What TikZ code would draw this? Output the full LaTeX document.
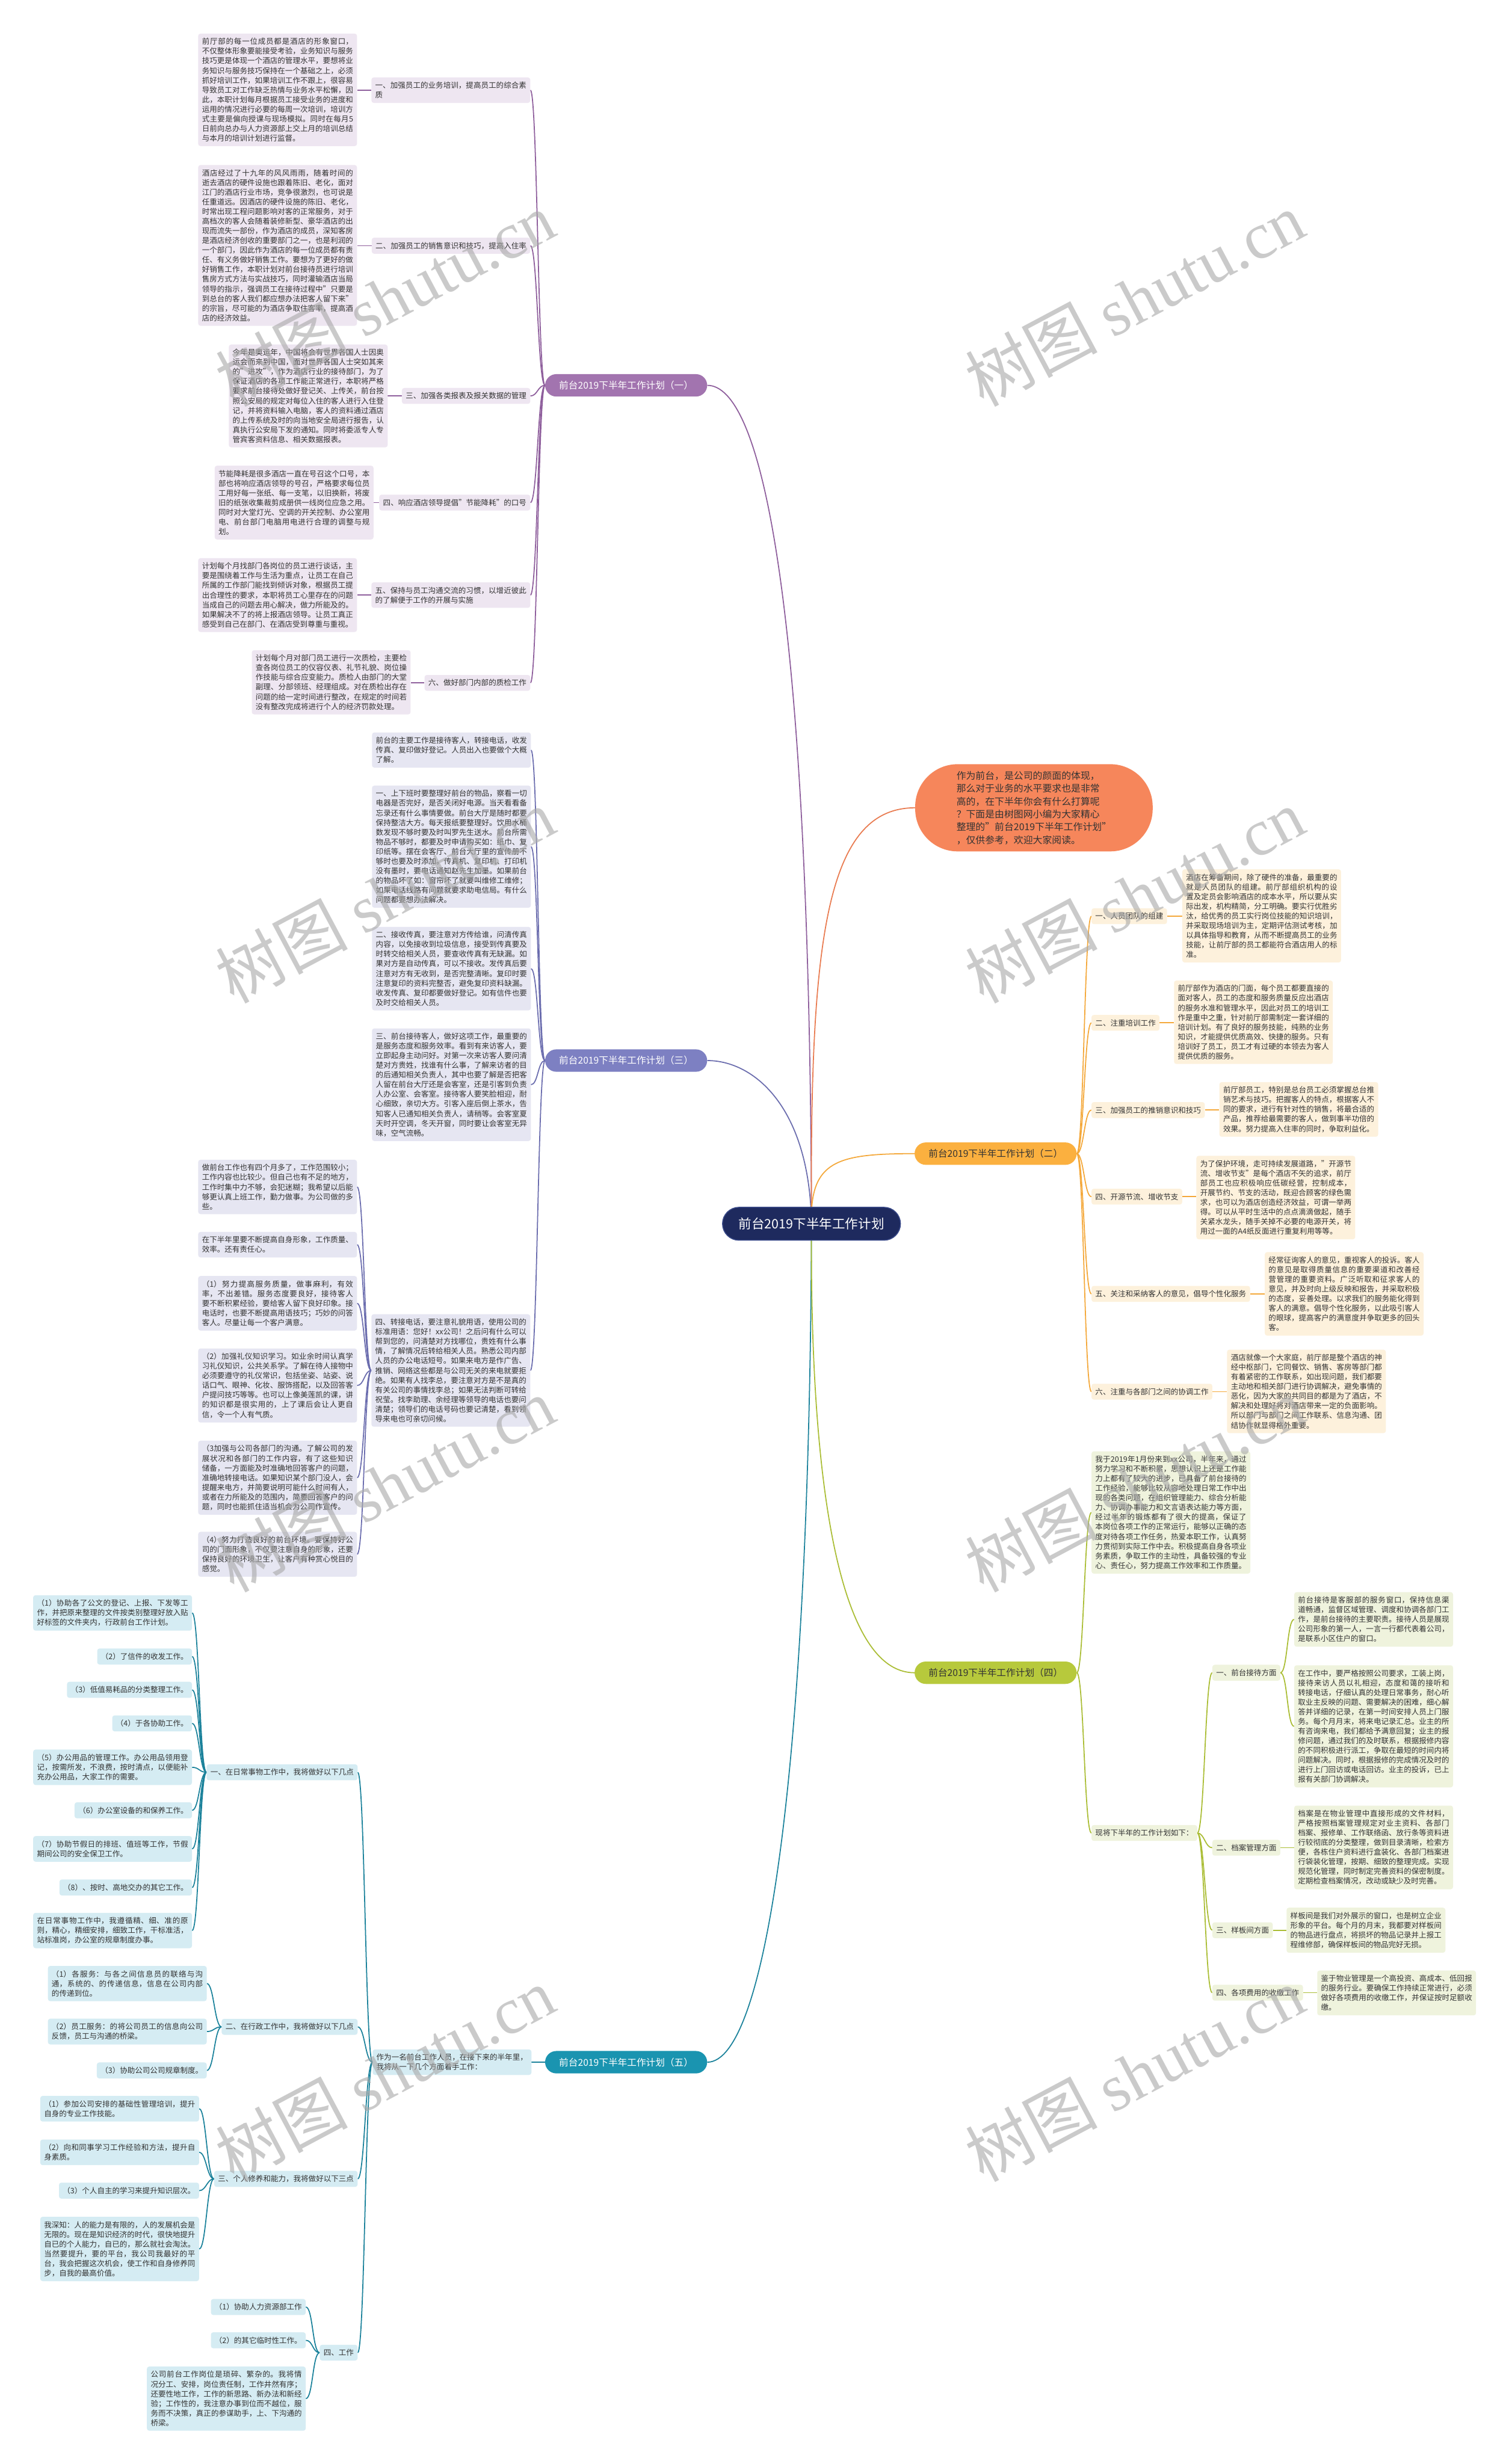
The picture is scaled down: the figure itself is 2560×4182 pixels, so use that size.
\documentclass[tikz,border=0pt]{standalone}
\usepackage{fontspec}
\setmainfont{Noto Sans CJK SC}
\newfontfamily\wmlatin{Liberation Serif}
\XeTeXlinebreaklocale "zh"
\XeTeXlinebreakskip=0pt plus 1pt
\XeTeXlinebreakpenalty=0
\tolerance=9999
\emergencystretch=8pt
\definecolor{txt}{HTML}{333333}
\definecolor{puL}{HTML}{8E5E9C}
\definecolor{puM}{HTML}{A274AF}
\definecolor{puF}{HTML}{EEE6F1}
\definecolor{slL}{HTML}{6B6DAE}
\definecolor{slM}{HTML}{7D80C2}
\definecolor{slF}{HTML}{E6E6F2}
\definecolor{teL}{HTML}{1B829B}
\definecolor{teM}{HTML}{1A94B0}
\definecolor{teF}{HTML}{D5ECF3}
\definecolor{orL}{HTML}{F4A83A}
\definecolor{orM}{HTML}{FBB03F}
\definecolor{orF}{HTML}{FDF1DC}
\definecolor{grL}{HTML}{AABD34}
\definecolor{grM}{HTML}{B7C93C}
\definecolor{grF}{HTML}{EFF3DD}
\definecolor{introF}{HTML}{F6865B}
\definecolor{introL}{HTML}{E97B50}
\definecolor{rootF}{HTML}{1E2A5E}
\definecolor{rootD}{HTML}{3A4A8A}
\definecolor{wmC}{HTML}{A8A8A8}
\pgfdeclarelayer{bg}
\pgfsetlayers{bg,main}
\newcommand\lcon[3]{\draw[lnk,#1] (#2.west) .. controls ([xshift=-12pt]#2.west) and ([xshift=12pt]#3.east) .. (#3.east);}
\newcommand\rcon[3]{\draw[lnk,#1] (#2.east) .. controls ([xshift=12pt]#2.east) and ([xshift=-12pt]#3.west) .. (#3.west);}
\newcommand\hl[3]{\draw[lnk,#1] (#2.west) -- (#2.west -| #3.east);}
\newcommand\hr[3]{\draw[lnk,#1] (#2.east) -- (#2.east -| #3.west);}
\begin{document}
\begin{tikzpicture}[x=1pt,y=-1pt,
  tbox/.style={rectangle,rounded corners=4pt,inner xsep=6.5pt,inner ysep=7.5pt,text=txt,font=\fontsize{12.8}{16.4}\selectfont,align=left},
  tw/.style={text width=256.5pt,align=justify},
  pub/.style={tbox,fill=puF}, slb/.style={tbox,fill=slF}, teb/.style={tbox,fill=teF},
  orb/.style={tbox,fill=orF}, grb/.style={tbox,fill=grF},
  mainb/.style={rectangle,rounded corners=19pt,minimum width=275pt,minimum height=38pt,inner sep=0pt,font=\fontsize{16}{19}\selectfont},
  lnk/.style={line width=1.8pt},
  wm/.style={text=wmC,opacity=0.6,font=\fontsize{112}{120}\selectfont,rotate=28,inner sep=0pt}
]
\useasboundingbox (0,0) rectangle (2560,4182);

% ---------- root ----------
\node[fill=rootF,draw=rootD,line width=1.5pt,text=white,rounded corners=28pt,minimum width=302pt,minimum height=56pt,inner sep=0pt,font=\fontsize{22}{26}\selectfont] (root) at (1377,2077) {前台2019下半年工作计划};

% ---------- (一) ----------
\node[mainb,fill=puM,text=white] (m1) at (1062.5,654) {前台2019下半年工作计划（一）};
\node[pub,tw,anchor=east] (l1) at (900,153) {一、加强员工的业务培训，提高员工的综合素质};
\node[pub,tw,anchor=east] (t1) at (606,152.5) {前厅部的每一位成员都是酒店的形象窗口，不仅整体形象要能接受考验，业务知识与服务技巧更是体现一个酒店的管理水平，要想将业务知识与服务技巧保持在一个基础之上，必须抓好培训工作，如果培训工作不跟上，很容易导致员工对工作缺乏热情与业务水平松懈，因此，本职计划每月根据员工接受业务的进度和运用的情况进行必要的每周一次培训，培训方式主要是偏向授课与现场模拟。同时在每月5日前向总办与人力资源部上交上月的培训总结与本月的培训计划进行监督。};
\node[pub,anchor=east] (l2) at (900,417) {二、加强员工的销售意识和技巧，提高入住率};
\node[pub,tw,anchor=east] (t2) at (606,416.5) {酒店经过了十九年的风风雨雨，随着时间的逝去酒店的硬件设施也跟着陈旧、老化，面对江门的酒店行业市场，竞争很激烈，也可说是任重道远。因酒店的硬件设施的陈旧、老化，时常出现工程问题影响对客的正常服务，对于高档次的客人会随着装修新型、豪华酒店的出现而流失一部份，作为酒店的成员，深知客房是酒店经济创收的重要部门之一，也是利润的一个部门，因此作为酒店的每一位成员都有责任、有义务做好销售工作。要想为了更好的做好销售工作，本职计划对前台接待员进行培训售房方式方法与实战技巧，同时灌输酒店当局领导的指示，强调员工在接待过程中"只要是到总台的客人我们都应想办法把客人留下来"的宗旨，尽可能的为酒店争取住客率，提高酒店的经济效益。};
\node[pub,anchor=east] (l3) at (900,672) {三、加强各类报表及报关数据的管理};
\node[pub,tw,anchor=east] (t3) at (658,672) {今年是奥运年，中国将会有世界各国人士因奥运会而来到中国，面对世界各国人士突如其来的"进攻"，作为酒店行业的接待部门，为了保证酒店的各项工作能正常进行，本职将严格要求前台接待处做好登记关、上传关，前台按照公安局的规定对每位入住的客人进行入住登记，并将资料输入电脑，客人的资料通过酒店的上传系统及时的向当地安全局进行报告，认真执行公安局下发的通知。同时将委派专人专管宾客资料信息、相关数据报表。};
\node[pub,anchor=east] (l4) at (900,853) {四、响应酒店领导提倡"节能降耗"的口号};
\node[pub,tw,anchor=east] (t4) at (634,853) {节能降耗是很多酒店一直在号召这个口号，本部也将响应酒店领导的号召，严格要求每位员工用好每一张纸、每一支笔，以旧换新，将废旧的纸张收集裁剪成册供一线岗位应急之用。同时对大堂灯光、空调的开关控制、办公室用电、前台部门电脑用电进行合理的调整与规划。};
\node[pub,tw,anchor=east] (l5) at (900,1010) {五、保持与员工沟通交流的习惯，以增近彼此的了解便于工作的开展与实施};
\node[pub,tw,anchor=east] (t5) at (606,1010) {计划每个月找部门各岗位的员工进行谈话，主要是围绕着工作与生活为重点，让员工在自己所属的工作部门能找到倾诉对象，根据员工提出合理性的要求，本职将员工心里存在的问题当成自己的问题去用心解决，做力所能及的。如果解决不了的将上报酒店领导。让员工真正感受到自己在部门、在酒店受到尊重与重视。};
\node[pub,anchor=east] (l6) at (900,1159) {六、做好部门内部的质检工作};
\node[pub,tw,anchor=east] (t6) at (697,1158) {计划每个月对部门员工进行一次质检，主要检查各岗位员工的仪容仪表、礼节礼貌、岗位操作技能与综合应变能力。质检人由部门的大堂副理、分部领班、经理组成。对在质检出存在问题的给一定时间进行整改，在规定的时间若没有整改完成将进行个人的经济罚款处理。};

% ---------- (三) ----------
\node[mainb,fill=slM,text=white] (m3) at (1062.5,1800) {前台2019下半年工作计划（三）};
\node[slb,tw,anchor=east] (sA) at (901,1273) {前台的主要工作是接待客人，转接电话，收发传真、复印做好登记。人员出入也要做个大概了解。};
\node[slb,tw,anchor=east] (sB) at (901,1437) {一、上下班时要整理好前台的物品，察看一切电器是否完好，是否关闭好电源。当天看看备忘录还有什么事情要做。前台大厅是随时都要保持整洁大方。每天报纸要整理好。饮用水桶数发现不够时要及时叫罗先生送水。前台所需物品不够时，都要及时申请购买如：纸巾、复印纸等。摆在会客厅、前台大厅里的宣传册不够时也要及时添加。传真机、复印机、打印机没有墨时，要电话通知赵先生加墨。如果前台的物品坏了如：窗帘坏了就要叫维修工维修；如果电话线路有问题就要求助电信局。有什么问题都要想办法解决。};
\node[slb,tw,anchor=east] (sC) at (901,1644) {二、接收传真，要注意对方传给谁，问清传真内容，以免接收到垃圾信息，接受到传真要及时转交给相关人员，要查收传真有无缺漏。如果对方是自动传真，可以不接收。发传真后要注意对方有无收到，是否完整清晰。复印时要注意复印的资料完整否，避免复印资料缺漏。收发传真、复印都要做好登记。如有信件也要及时交给相关人员。};
\node[slb,tw,anchor=east] (sD) at (901,1841) {三、前台接待客人，做好这项工作，最重要的是服务态度和服务效率。看到有来访客人，要立即起身主动问好。对第一次来访客人要问清楚对方贵姓，找谁有什么事，了解来访者的目的后通知相关负责人，其中也要了解是否把客人留在前台大厅还是会客室，还是引客到负责人办公室、会客室。接待客人要笑脸相迎，耐心细致，亲切大方。引客入座后倒上茶水，告知客人已通知相关负责人，请稍等。会客室夏天时开空调，冬天开窗，同时要让会客室无异味，空气流畅。};
\node[slb,tw,anchor=east] (sE) at (900,2326) {四、转接电话，要注意礼貌用语，使用公司的标准用语：您好！xx公司！之后问有什么可以帮到您的，问清楚对方找哪位，贵姓有什么事情，了解情况后转给相关人员。熟悉公司内部人员的办公电话短号。如果来电方是作广告、推销、网络这些都是与公司无关的来电就要拒绝。如果有人找李总，要注意对方是不是真的有关公司的事情找李总；如果无法判断可转给祝莹。找李助理、余经理等领导的电话也要问清楚；领导们的电话号码也要记清楚，看到领导来电也可亲切问候。};
\node[slb,tw,anchor=east] (e1) at (606,2014.5) {做前台工作也有四个月多了，工作范围较小；工作内容也比较少。但自己也有不足的地方，工作时集中力不够，会犯迷糊；我希望以后能够更认真上班工作，勤力做事。为公司做的多些。};
\node[slb,tw,anchor=east] (e2) at (606,2112.5) {在下半年里要不断提高自身形象，工作质量、效率。还有责任心。};
\node[slb,tw,anchor=east] (e3) at (606,2212) {（1）努力提高服务质量，做事麻利，有效率，不出差错。服务态度要良好，接待客人要不断积累经验，要给客人留下良好印象。接电话时，也要不断提高用语技巧；巧妙的问答客人。尽量让每一个客户满意。};
\node[slb,tw,anchor=east] (e4) at (606,2351.5) {（2）加强礼仪知识学习。如业余时间认真学习礼仪知识，公共关系学。了解在待人接物中必须要遵守的礼仪常识，包括坐姿、站姿、说话口气、眼神、化妆、服饰搭配，以及回答客户提问技巧等等。也可以上像美莲凯的课，讲的知识都是很实用的，上了课后会让人更自信，令一个人有气质。};
\node[slb,tw,anchor=east] (e5) at (606,2508) {（3加强与公司各部门的沟通。了解公司的发展状况和各部门的工作内容，有了这些知识储备，一方面能及时准确地回答客户的问题，准确地转接电话。如果知识某个部门没人，会提醒来电方，并简要说明可能什么时间有人，或者在力所能及的范围内，简要回答客户的问题，同时也能抓住适当机会为公司作宣传。};
\node[slb,tw,anchor=east] (e6) at (606,2638) {（4）努力打造良好的前台环境。要保持好公司的门面形象，不仅要注意自身的形象，还要保持良好的环境卫生，让客户有种赏心悦目的感觉。};

% ---------- (五) ----------
\node[mainb,fill=teM,text=white] (m5) at (1062.5,3500) {前台2019下半年工作计划（五）};
\node[teb,tw,anchor=east] (i5) at (902,3500) {作为一名前台工作人员，在接下来的半年里，我将从一下几个方面着手工作：};
\node[teb,anchor=east] (L1) at (607,3008) {一、在日常事物工作中，我将做好以下几点};
\node[teb,tw,anchor=east] (a1) at (326,2737.5) {（1）协助各了公文的登记、上报、下发等工作，并把原来整理的文件按类别整理好放入贴好标签的文件夹内，行政前台工作计划。};
\node[teb,anchor=east] (a2) at (326,2811.5) {（2）了信件的收发工作。};
\node[teb,anchor=east] (a3) at (326,2868) {（3）低值易耗品的分类整理工作。};
\node[teb,anchor=east] (a4) at (326,2925) {（4）于各协助工作。};
\node[teb,tw,anchor=east] (a5) at (326,2999.5) {（5）办公用品的管理工作。办公用品领用登记，按需所发，不浪费，按时清点，以便能补充办公用品，大家工作的需要。};
\node[teb,anchor=east] (a6) at (326,3072.5) {（6）办公室设备的和保养工作。};
\node[teb,tw,anchor=east] (a7) at (326,3138) {（7）协助节假日的排班、值班等工作，节假期间公司的安全保卫工作。};
\node[teb,anchor=east] (a8) at (326,3203.5) {（8）、按时、高地交办的其它工作。};
\node[teb,tw,anchor=east] (a9) at (326,3276.5) {在日常事物工作中，我遵循精、细、准的原则，精心，精细安排，细致工作，干标准活，站标准岗，办公室的规章制度办事。};
\node[teb,anchor=east] (L2) at (607,3440) {二、在行政工作中，我将做好以下几点};
\node[teb,tw,anchor=east] (b1) at (351,3366.5) {（1）各服务：与各之间信息员的联络与沟通，系统的、的传递信息，信息在公司内部的传递到位。};
\node[teb,tw,anchor=east] (b2) at (351,3448) {（2）员工服务：的将公司员工的信息向公司反馈，员工与沟通的桥梁。};
\node[teb,anchor=east] (b3) at (351,3514) {（3）协助公司公司规章制度。};
\node[teb,anchor=east] (L3) at (607,3698) {三、个人修养和能力，我将做好以下三点};
\node[teb,tw,anchor=east] (c1) at (338,3579) {（1）参加公司安排的基础性管理培训，提升自身的专业工作技能。};
\node[teb,tw,anchor=east] (c2) at (338,3653) {（2）向和同事学习工作经验和方法，提升自身素质。};
\node[teb,anchor=east] (c3) at (338,3718) {（3）个人自主的学习来提升知识层次。};
\node[teb,tw,anchor=east] (c4) at (338,3817) {我深知：人的能力是有限的，人的发展机会是无限的。现在是知识经济的时代，很快地提升自已的个人能力，自已的，那么就社会淘汰。当然要提升，要的平台，我公司我最好的平台，我会把握这次机会，使工作和自身修养同步，自我的最高价值。};
\node[teb,anchor=east] (L4) at (607,3993) {四、工作};
\node[teb,anchor=east] (d1) at (519,3915.5) {（1）协助人力资源部工作};
\node[teb,anchor=east] (d2) at (519,3972) {（2）的其它临时性工作。};
\node[teb,tw,anchor=east] (d3) at (519,4071) {公司前台工作岗位是琐碎、繁杂的。我将情况分工、安排，岗位责任制，工作井然有序；还要性地工作，工作的新思路、新办法和新经验；工作性的，我注意办事到位而不越位，服务而不决策，真正的参谋助手，上、下沟通的桥梁。};

% ---------- intro ----------
\node[fill=introF,rounded corners=72pt,minimum width=403pt,minimum height=148pt,align=left,text=txt,font=\fontsize{16.2}{21.8}\selectfont] (intro) at (1754.5,1371) {作为前台，是公司的颜面的体现，\\那么对于业务的水平要求也是非常\\高的，在下半年你会有什么打算呢\\？下面是由树图网小编为大家精心\\整理的"前台2019下半年工作计划"\\，仅供参考，欢迎大家阅读。};

% ---------- (二) ----------
\node[mainb,fill=orM,text=txt] (m2) at (1689.5,1958) {前台2019下半年工作计划（二）};
\node[orb,anchor=west] (R1) at (1852,1555) {一、人员团队的组建};
\node[orb,tw,anchor=west] (r1) at (2006,1554.5) {酒店在筹备期间，除了硬件的准备，最重要的就是人员团队的组建。前厅部组织机构的设置及定员会影响酒店的成本水平，所以要从实际出发，机构精简，分工明确。要实行优胜劣汰，给优秀的员工实行岗位技能的知识培训，并采取现场培训为主，定期评估测试考核，加以具体指导和教育，从而不断提高员工的业务技能，让前厅部的员工都能符合酒店用人的标准。};
\node[orb,anchor=west] (R2) at (1852,1736) {二、注重培训工作};
\node[orb,tw,anchor=west] (r2) at (1992,1735) {前厅部作为酒店的门面，每个员工都要直接的面对客人，员工的态度和服务质量反应出酒店的服务水准和管理水平，因此对员工的培训工作是重中之重，针对前厅部需制定一套详细的培训计划。有了良好的服务技能，纯熟的业务知识，才能提供优质高效、快捷的服务。只有培训好了员工，员工才有过硬的本领去为客人提供优质的服务。};
\node[orb,anchor=west] (R3) at (1852,1884) {三、加强员工的推销意识和技巧};
\node[orb,tw,anchor=west] (r3) at (2069,1883) {前厅部员工，特别是总台员工必须掌握总台推销艺术与技巧。把握客人的特点，根据客人不同的要求，进行有针对性的销售，将最合适的产品，推荐给最需要的客人，做到事半功倍的效果。努力提高入住率的同时，争取利益化。};
\node[orb,anchor=west] (R4) at (1852,2031) {四、开源节流、增收节支};
\node[orb,tw,anchor=west] (r4) at (2030,2032.5) {为了保护环境，走可持续发展道路，"开源节流、增收节支"是每个酒店不矢的追求，前厅部员工也应积极响应低碳经营，控制成本，开展节约、节支的活动，既迎合顾客的绿色需求，也可以为酒店创造经济效益，可谓一举两得。可以从平时生活中的点点滴滴做起，随手关紧水龙头，随手关掉不必要的电源开关，将用过一面的A4纸反面进行重复利用等等。};
\node[orb,anchor=west] (R5) at (1852,2196) {五、关注和采纳客人的意见，倡导个性化服务};
\node[orb,tw,anchor=west] (r5) at (2146,2196) {经常征询客人的意见，重视客人的投诉。客人的意见是取得质量信息的重要渠道和改善经营管理的重要资料。广泛听取和征求客人的意见，并及时向上级反映和报告，并采取积极的态度，妥善处理。以求我们的服务能化得到客人的满意。倡导个性化服务，以此吸引客人的眼球，提高客户的满意度并争取更多的回头客。};
\node[orb,anchor=west] (R6) at (1852,2362) {六、注重与各部门之间的协调工作};
\node[orb,tw,anchor=west] (r6) at (2082,2361.5) {酒店就像一个大家庭，前厅部是整个酒店的神经中枢部门，它同餐饮、销售、客房等部门都有着紧密的工作联系，如出现问题，我们都要主动地和相关部门进行协调解决，避免事情的恶化，因为大家的共同目的都是为了酒店，不解决和处理好将对酒店带来一定的负面影响。所以部门与部门之间工作联系、信息沟通、团结协作就显得格外重要。};

% ---------- (四) ----------
\node[mainb,fill=grM,text=txt] (m4) at (1689.5,2839) {前台2019下半年工作计划（四）};
\node[grb,tw,anchor=west] (g0) at (1852,2567) {我于2019年1月份来到xx公司，半年来，通过努力学习和不断积累，思想认识上还是工作能力上都有了较大的进步，已具备了前台接待的工作经验，能够比较从容地处理日常工作中出现的各类问题，在组织管理能力、综合分析能力、协调办事能力和文言语表达能力等方面，经过半年的锻炼都有了很大的提高，保证了本岗位各项工作的正常运行，能够以正确的态度对待各项工作任务，热爱本职工作，认真努力贯彻到实际工作中去。积极提高自身各项业务素质，争取工作的主动性，具备较强的专业心、责任心，努力提高工作效率和工作质量。};
\node[grb,anchor=west] (G) at (1852,3111) {现将下半年的工作计划如下：};
\node[grb,anchor=west] (G1) at (2057,2839) {一、前台接待方面};
\node[grb,tw,anchor=west] (g1a) at (2196,2748.5) {前台接待是客服部的服务窗口，保持信息渠道畅通，监督区域管理、调度和协调各部门工作，是前台接待的主要职责。接待人员是展现公司形象的第一人，一言一行都代表着公司，是联系小区住户的窗口。};
\node[grb,tw,anchor=west] (g1b) at (2196,2930) {在工作中，要严格按照公司要求，工装上岗，接待来访人员以礼相迎，态度和蔼的接听和转接电话，仔细认真的处理日常事务，耐心听取业主反映的问题、需要解决的困难，细心解答并详细的记录，在第一时间安排人员上门服务。每个月月末，将来电记录汇总。业主的所有咨询来电，我们都给予满意回复；业主的报修问题，通过我们的及时联系，根据报修内容的不同积极进行派工，争取在最短的时间内将问题解决。同时，根据报修的完成情况及时的进行上门回访或电话回访。业主的投诉，已上报有关部门协调解决。};
\node[grb,anchor=west] (G2) at (2057,3136) {二、档案管理方面};
\node[grb,tw,anchor=west] (g2) at (2196,3135.5) {档案是在物业管理中直接形成的文件材料，严格按照档案管理规定对业主资料、各部门档案、报修单、工作联络函、放行条等资料进行较彻底的分类整理，做到目录清晰，检索方便，各栋住户资料进行盒装化、各部门档案进行袋装化管理，按期、细致的整理完成。实现规范化管理，同时制定完善资料的保密制度。定期检查档案情况，改动或缺少及时完善。};
\node[grb,anchor=west] (G3) at (2057,3276) {三、样板间方面};
\node[grb,tw,anchor=west] (g3) at (2183,3276) {样板间是我们对外展示的窗口，也是树立企业形象的平台。每个月的月末，我都要对样板间的物品进行盘点，将损坏的物品记录并上报工程维修部，确保样板间的物品完好无损。};
\node[grb,anchor=west] (G4) at (2057,3382) {四、各项费用的收缴工作};
\node[grb,tw,anchor=west] (g4) at (2235,3382.5) {鉴于物业管理是一个高投资、高成本、低回报的服务行业。要确保工作持续正常进行，必须做好各项费用的收缴工作，并保证按时足额收缴。};

% ---------- connectors ----------
\begin{pgfonlayer}{bg}
\fill[white] (0,0) rectangle (2560,4182);
\draw[lnk,puL] (root.center) .. controls (1374,1000) and (1290,654) .. (m1.east);
\draw[lnk,slL] (root.center) .. controls (1374,1880) and (1280,1800) .. (m3.east);
\draw[lnk,teL] (root.center) .. controls (1374,3000) and (1300,3500) .. (m5.east);
\draw[lnk,introL] (root.center) .. controls (1374,1600) and (1400,1371) .. (intro.west);
\draw[lnk,orL] (root.center) .. controls (1374,1970) and (1420,1958) .. (m2.west);
\draw[lnk,grL] (root.center) .. controls (1374,2500) and (1420,2839) .. (m4.west);
% (一)
\lcon{puL}{m1}{l1}\lcon{puL}{m1}{l2}\lcon{puL}{m1}{l3}
\lcon{puL}{m1}{l4}\lcon{puL}{m1}{l5}\lcon{puL}{m1}{l6}
\hl{puL}{l1}{t1}\hl{puL}{l2}{t2}\hl{puL}{l3}{t3}
\hl{puL}{l4}{t4}\hl{puL}{l5}{t5}\hl{puL}{l6}{t6}
% (三)
\lcon{slL}{m3}{sA}\lcon{slL}{m3}{sB}\lcon{slL}{m3}{sC}
\lcon{slL}{m3}{sD}\lcon{slL}{m3}{sE}
\lcon{slL}{sE}{e1}\lcon{slL}{sE}{e2}\lcon{slL}{sE}{e3}
\lcon{slL}{sE}{e4}\lcon{slL}{sE}{e5}\lcon{slL}{sE}{e6}
% (五)
\hl{teL}{m5}{i5}
\lcon{teL}{i5}{L1}\lcon{teL}{i5}{L2}\lcon{teL}{i5}{L3}\lcon{teL}{i5}{L4}
\lcon{teL}{L1}{a1}\lcon{teL}{L1}{a2}\lcon{teL}{L1}{a3}
\lcon{teL}{L1}{a4}\lcon{teL}{L1}{a5}\lcon{teL}{L1}{a6}
\lcon{teL}{L1}{a7}\lcon{teL}{L1}{a8}\lcon{teL}{L1}{a9}
\lcon{teL}{L2}{b1}\lcon{teL}{L2}{b2}\lcon{teL}{L2}{b3}
\lcon{teL}{L3}{c1}\lcon{teL}{L3}{c2}\lcon{teL}{L3}{c3}\lcon{teL}{L3}{c4}
\lcon{teL}{L4}{d1}\lcon{teL}{L4}{d2}\lcon{teL}{L4}{d3}
% (二)
\rcon{orL}{m2}{R1}\rcon{orL}{m2}{R2}\rcon{orL}{m2}{R3}
\rcon{orL}{m2}{R4}\rcon{orL}{m2}{R5}\rcon{orL}{m2}{R6}
\hr{orL}{R1}{r1}\hr{orL}{R2}{r2}\hr{orL}{R3}{r3}
\hr{orL}{R4}{r4}\hr{orL}{R5}{r5}\hr{orL}{R6}{r6}
% (四)
\rcon{grL}{m4}{g0}\rcon{grL}{m4}{G}
\rcon{grL}{G}{G1}\rcon{grL}{G}{G2}\rcon{grL}{G}{G3}\rcon{grL}{G}{G4}
\rcon{grL}{G1}{g1a}\rcon{grL}{G1}{g1b}
\hr{grL}{G2}{g2}\hr{grL}{G3}{g3}\hr{grL}{G4}{g4}
\end{pgfonlayer}

% ---------- watermarks ----------
\node[wm] (w1) at (653,507) {树图 {\wmlatin shutu.cn}};
\node[wm] (w2) at (1925,507) {树图 {\wmlatin shutu.cn}};
\node[wm] (w3) at (653,1520) {树图 {\wmlatin shutu.cn}};
\node[wm] (w4) at (1925,1520) {树图 {\wmlatin shutu.cn}};
\node[wm] (w5) at (653,2520) {树图 {\wmlatin shutu.cn}};
\node[wm] (w6) at (1925,2520) {树图 {\wmlatin shutu.cn}};
\node[wm] (w7) at (653,3520) {树图 {\wmlatin shutu.cn}};
\node[wm] (w8) at (1925,3520) {树图 {\wmlatin shutu.cn}};
\end{tikzpicture}
\end{document}
